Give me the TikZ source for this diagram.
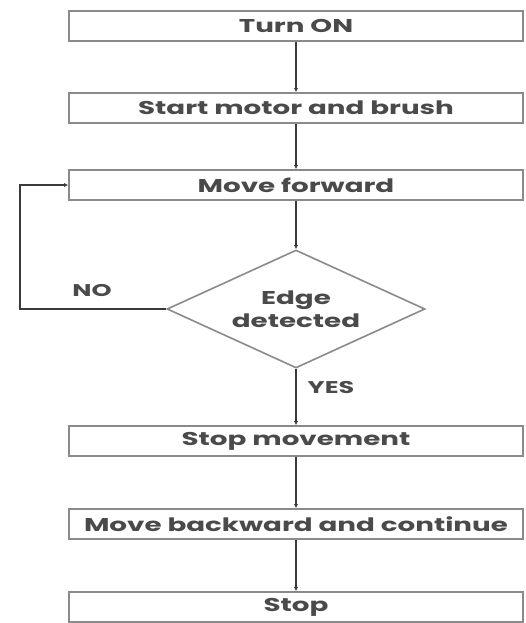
\documentclass[tikz,border=0pt]{standalone}
\usepackage{fontspec}
\setmainfont{Poppins}[FakeStretch=1.5]
\usetikzlibrary{shapes.geometric,arrows.meta}
\definecolor{txt}{HTML}{4A4A4A}
\definecolor{brd}{HTML}{8A8A8A}
\definecolor{ln}{HTML}{3A3A3A}
\tikzset{
  stepbox/.style={draw=brd, line width=1.6pt, minimum width=454pt, minimum height=30pt, inner sep=0pt, text=txt, font=\fontsize{18.5}{20}\selectfont\bfseries},
  decide/.style={draw=brd, line width=1.6pt, shape=diamond, minimum width=258pt, minimum height=118pt, inner sep=0pt},
  decidetext/.style={text=txt, align=center, inner sep=0pt, font=\fontsize{18.5}{23}\selectfont\bfseries},
  flow/.style={draw=ln, line width=1.6pt, -{Latex[length=4pt,width=4pt]}},
  lbl/.style={text=txt, font=\fontsize{17}{19}\selectfont\bfseries, inner sep=0pt}
}
\begin{document}
\begin{tikzpicture}[x=1pt,y=-1pt]
\useasboundingbox (0,0) rectangle (526,623);
\node[stepbox] (on) at (296,26) {Turn ON};
\node[stepbox] (start) at (296,108) {Start motor and brush};
\node[stepbox] (fwd) at (296,185) {Move forward};
\node[decide] (edge) at (296,309) {};
\node[decidetext] (edgetext) at (edge.center) {Edge\\detected};
\node[stepbox] (stopm) at (296,441) {Stop movement};
\node[stepbox] (back) at (296,524) {Move backward and continue};
\node[stepbox] (stop) at (296,607) {Stop};
\coordinate (c1) at (20,309);
\coordinate (c2) at (20,185);
\draw[flow] (on) -- (start);
\draw[flow] (start) -- (fwd);
\draw[flow] (fwd) -- (edge);
\draw[flow] (edge) -- (stopm);
\draw[flow] (stopm) -- (back);
\draw[flow] (back) -- (stop);
\draw[flow] (edge.west) -- (c1) -- (c2) -- (fwd.west);
\node[lbl] (no) at (92,291) {NO};
\node[lbl] (yes) at (331,388) {YES};
\end{tikzpicture}
\end{document}
